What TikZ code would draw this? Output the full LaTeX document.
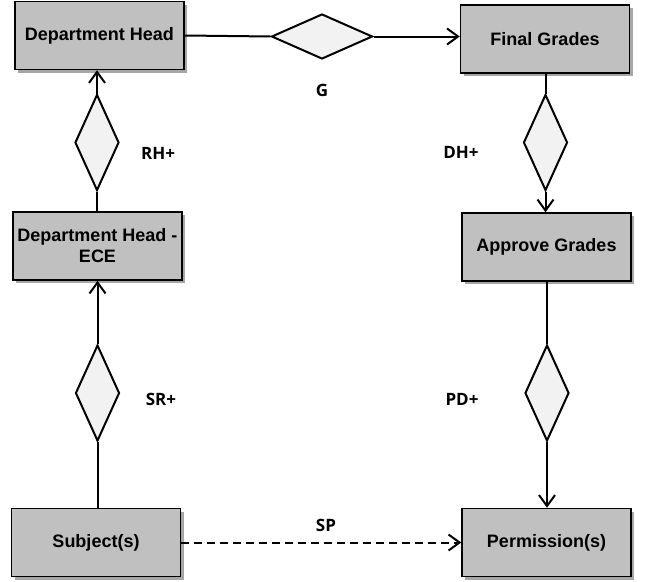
\documentclass[tikz,border=0pt]{standalone}
\usepackage{fontspec}
\setmainfont{Liberation Sans}
\newfontfamily\labelfont{Open Sans}
\usetikzlibrary{shapes.geometric,shadows,arrows.meta}
\begin{document}
\begin{tikzpicture}[x=1pt,y=-1pt,
  entity/.style={rectangle, draw=black, line width=1.5pt, fill=boxgray,
    minimum width=169pt, minimum height=68pt, inner sep=2pt, align=center,
    font=\fontsize{18}{21}\selectfont\bfseries,
    drop shadow={shadow xshift=3pt, shadow yshift=-3pt, fill=shadowgray, opacity=1}},
  rel/.style={diamond, draw=black, line width=2pt, fill=diamondfill,
    inner sep=0pt, minimum width=44pt, minimum height=96pt},
  relh/.style={rel, minimum width=101pt, minimum height=45pt},
  lbl/.style={font=\labelfont\fontsize{17}{19}\selectfont\bfseries},
  link/.style={draw=black, line width=2pt},
  arr/.style={link, -{Straight Barb[length=11pt,width=16pt]}},
]
\definecolor{boxgray}{HTML}{C0C0C0}
\definecolor{shadowgray}{HTML}{A6A6A6}
\definecolor{diamondfill}{HTML}{F2F2F2}
\useasboundingbox[fill=white] (0,0) rectangle (647,581);

% entities
\node[entity] (dh)   at (99.5,35.5) {Department Head};
\node[entity] (fg)   at (545,39)    {Final Grades};
\node[entity] (ece)  at (97.5,246)  {Department Head -\\ECE};
\node[entity] (ag)   at (546.5,247) {Approve Grades};
\node[entity] (subj) at (96,542.5)  {Subject(s)};
\node[entity] (perm) at (546.5,542.5) {Permission(s)};

% relationships
\node[relh] (g)  at (322,36.5) {};
\node[rel]  (rh) at (97,142.5) {};
\node[rel]  (dhr) at (545.5,142.5) {};
\node[rel]  (sr) at (97.5,393) {};
\node[rel]  (pd) at (547,393) {};

% connectors
\draw[link] (dh.east) -- (g.west);
\draw[arr]  (g.east) -- (g.east -| fg.west);
\draw[link] (rh.south) -- (rh.south |- ece.north);
\draw[arr]  (rh.north) -- (rh.north |- dh.south);
\draw[link] (sr.south) -- (sr.south |- subj.north);
\draw[arr]  (sr.north) -- (sr.north |- ece.south);
\draw[link] (dhr.north |- fg.south) -- (dhr.north);
\draw[arr]  (dhr.south) -- (dhr.south |- ag.north);
\draw[link] (pd.north |- ag.south) -- (pd.north);
\draw[arr]  (pd.south) -- (pd.south |- perm.north);
\draw[arr, dash pattern=on 8pt off 5pt] (subj.east) -- (perm.west);

% labels
\node[lbl] (lg)  at (322,90)  {G};
\node[lbl] (lrh) at (158,153) {RH+};
\node[lbl] (ldh) at (461,152) {DH+};
\node[lbl] (lsr) at (161,399) {SR+};
\node[lbl] (lpd) at (462,399) {PD+};
\node[lbl] (lsp) at (326,525) {SP};
\end{tikzpicture}
\end{document}
